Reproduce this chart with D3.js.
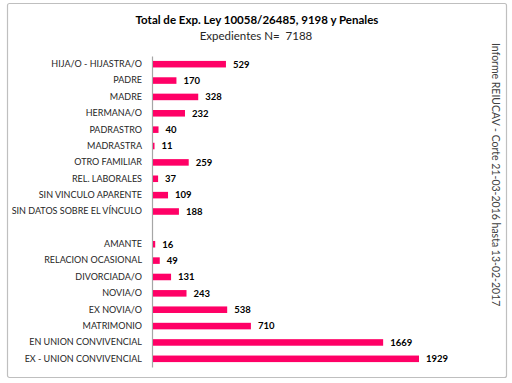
<!DOCTYPE html>
<html>
<head>
<meta charset="utf-8">
<script src="https://cdn.jsdelivr.net/npm/d3@7"></script>
<style>
  body { margin: 0; background: #fff; }
  svg { display: block; }
</style>
</head>
<body>
<svg id="chart"></svg>
<script>
// data ("" is the gap row between the two groups)
const categories = [
  "HIJA/O - HIJASTRA/O", "PADRE", "MADRE", "HERMANA/O", "PADRASTRO", "MADRASTRA",
  "OTRO FAMILIAR", "REL. LABORALES", "SIN VINCULO APARENTE", "SIN DATOS SOBRE EL VÍNCULO",
  "",
  "AMANTE", "RELACION OCASIONAL", "DIVORCIADA/O", "NOVIA/O", "EX NOVIA/O",
  "MATRIMONIO", "EN UNION CONVIVENCIAL", "EX - UNION CONVIVENCIAL"
]
const values = [529, 170, 328, 232, 40, 11, 259, 37, 109, 188,
                null,
                16, 49, 131, 243, 538, 710, 1669, 1929]
const titleText = "Total de Exp. Ley 10058/26485, 9198 y Penales"
const subtitleText = "Expedientes N=  7188"
const sideText = "Informe REIUCAV - Corte 21-03-2016 hasta 13-02-2017"

const svgWidth = 512, svgHeight = 383
const margin = { top: 56, right: 94, bottom: 16, left: 152 }
const width = svgWidth - margin.left - margin.right
const height = svgHeight - margin.top - margin.bottom

const svg = d3.select("#chart")
  .attr("width", svgWidth)
  .attr("height", svgHeight)

// outer frame
svg.append("rect")
  .attr("x", 7.5).attr("y", 3.5)
  .attr("width", 499).attr("height", 374)
  .attr("rx", 2)
  .attr("fill", "#fff")
  .attr("stroke", "#bfbfbf")
  .attr("stroke-width", 1.2)

svg.append("text")
  .attr("x", 257).attr("y", 24)
  .attr("text-anchor", "middle")
  .attr("font-family", "Lato, 'Open Sans', sans-serif")
  .attr("font-weight", "bold")
  .attr("font-size", 11.5)
  .attr("fill", "#000")
  .text(titleText)

svg.append("text")
  .attr("x", 256).attr("y", 40)
  .attr("text-anchor", "middle")
  .attr("font-family", "Lato, 'Open Sans', sans-serif")
  .attr("font-size", 11.5)
  .attr("fill", "#262626")
  .style("white-space", "pre")
  .text(subtitleText)

svg.append("text")
  .attr("transform", "translate(492,43) rotate(90)")
  .attr("text-anchor", "start")
  .attr("font-family", "Lato, 'Open Sans', sans-serif")
  .attr("font-size", 10.5)
  .attr("fill", "#404040")
  .text(sideText)

const g = svg.append("g")
  .attr("transform", `translate(${margin.left},${margin.top})`)

const ys = d3.scaleBand()
  .domain(categories.map((c, i) => i))
  .range([0, height])
  .paddingInner(0.6)
  .paddingOuter(0.3)

const xs = d3.scaleLinear()
  .domain([0, 1929])
  .range([0, 266])

// category axis
const yAxis = g.append("g")
  .call(d3.axisLeft(ys).tickSize(0).tickPadding(10).tickFormat(i => categories[i]))
yAxis.select(".domain").attr("stroke", "#a6a6a6").attr("stroke-width", 1.2)
yAxis.selectAll("text")
  .attr("font-family", "Lato, 'Open Sans', sans-serif")
  .attr("font-size", 9)
  .attr("fill", "#262626")

const rows = categories.map((c, i) => ({ i, c, v: values[i] })).filter(d => d.v != null)

g.selectAll("rect.bar")
  .data(rows)
  .enter().append("rect")
    .attr("class", "bar")
    .attr("x", 1)
    .attr("y", d => ys(d.i))
    .attr("width", d => xs(d.v))
    .attr("height", ys.bandwidth())
    .attr("fill", "#ff0066")

g.selectAll("text.val")
  .data(rows)
  .enter().append("text")
    .attr("class", "val")
    .attr("x", d => xs(d.v) + 8)
    .attr("y", d => ys(d.i) + ys.bandwidth() / 2)
    .attr("dy", "0.35em")
    .attr("font-family", "Lato, 'Open Sans', sans-serif")
    .attr("font-weight", "bold")
    .attr("font-size", 9.5)
    .attr("fill", "#000")
    .text(d => d.v)
</script>
</body>
</html>
